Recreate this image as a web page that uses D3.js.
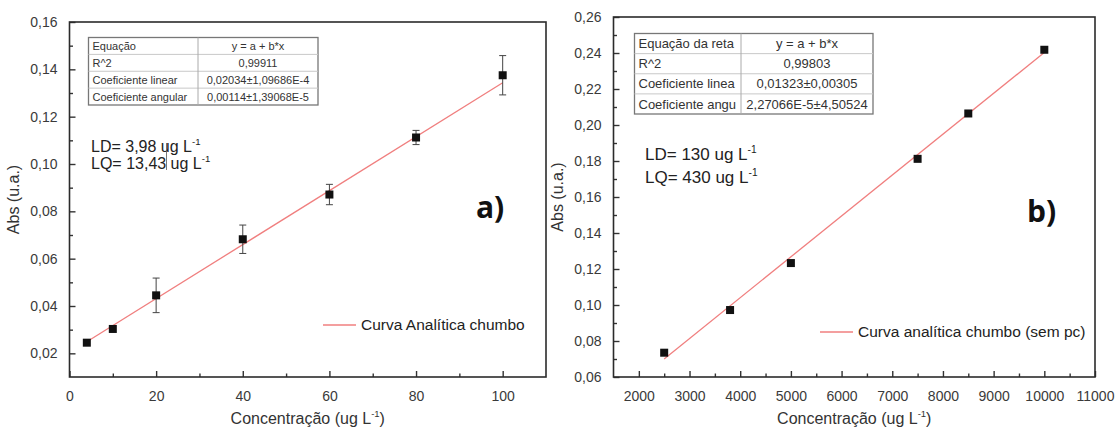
<!DOCTYPE html>
<html><head><meta charset="utf-8">
<script src="https://cdn.jsdelivr.net/npm/d3@7"></script>
<style>
body{margin:0;background:#fff;}
svg{display:block;font-family:"Liberation Sans",Arial,sans-serif;}
</style></head>
<body>
<svg id="c" width="1116" height="430"></svg>
<script>
// ---- Panel a) data ----
const concA = [4, 10, 20, 40, 60, 80, 100];
const absA = [0.0245, 0.0303, 0.0445, 0.0682, 0.0871, 0.1112, 0.1375];
const errA = [0.0005, 0.0005, 0.0073, 0.0060, 0.0043, 0.0030, 0.0083];
const fitA = {a: 0.02034, b: 0.00114, from: 4, to: 100};
const xTicksA = [0, 20, 40, 60, 80, 100];
const yTicksA = [0.02, 0.04, 0.06, 0.08, 0.10, 0.12, 0.14, 0.16];
const tableA = [["Equação", "y = a + b*x"], ["R^2", "0,99911"], ["Coeficiente linear", "0,02034±1,09686E-4"], ["Coeficiente angular", "0,00114±1,39068E-5"]];
const limitsA = ["LD= 3,98 ug L", "LQ= 13,43 ug L"];
const legendA = "Curva Analítica chumbo";

// ---- Panel b) data ----
const concB = [2500, 3800, 5000, 7500, 8500, 10000];
const absB = [0.0735, 0.0972, 0.1233, 0.1812, 0.2064, 0.2418];
const fitB = {a: 0.01323, b: 2.27066e-5, from: 2500, to: 10000};
const xTicksB = [2000, 3000, 4000, 5000, 6000, 7000, 8000, 9000, 10000, 11000];
const yTicksB = [0.06, 0.08, 0.10, 0.12, 0.14, 0.16, 0.18, 0.20, 0.22, 0.24, 0.26];
const tableB = [["Equação da reta", "y = a + b*x"], ["R^2", "0,99803"], ["Coeficiente linea", "0,01323±0,00305"], ["Coeficiente angu", "2,27066E-5±4,50524"]];
const limitsB = ["LD= 130 ug L", "LQ= 430 ug L"];
const legendB = "Curva analítica chumbo (sem pc)";

const svg = d3.select("#c");
const fmt = v => d3.format(".2f")(v).replace(".", ",");

function panel(cfg) {
  const g = svg.append("g");
  const x = d3.scaleLinear().domain(cfg.xDomain).range([cfg.x0, cfg.x1]);
  const y = d3.scaleLinear().domain(cfg.yDomain).range([cfg.y1, cfg.y0]);

  // x axis (ticks inward)
  const xa = g.append("g").attr("transform", `translate(0,${cfg.y1})`)
    .call(d3.axisBottom(x).tickValues(cfg.xTicks).tickSize(-6).tickPadding(14).tickFormat(d3.format("d")));
  xa.select(".domain").remove();
  xa.selectAll("line").attr("stroke", "#333").attr("stroke-width", 1.4);
  xa.selectAll("text").attr("fill", "#3a3a3a").attr("font-size", cfg.tickFont);
  const xm = g.append("g").attr("transform", `translate(0,${cfg.y1})`)
    .call(d3.axisBottom(x).tickValues(cfg.xMinor).tickSize(-3.5).tickFormat(""));
  xm.select(".domain").remove();
  xm.selectAll("line").attr("stroke", "#333").attr("stroke-width", 1.4);

  // y axis (ticks inward)
  const ya = g.append("g").attr("transform", `translate(${cfg.x0},0)`)
    .call(d3.axisLeft(y).tickValues(cfg.yTicks).tickSize(-6).tickPadding(12).tickFormat(fmt));
  ya.select(".domain").remove();
  ya.selectAll("line").attr("stroke", "#333").attr("stroke-width", 1.4);
  ya.selectAll("text").attr("fill", "#3a3a3a").attr("font-size", cfg.tickFont);
  const ym = g.append("g").attr("transform", `translate(${cfg.x0},0)`)
    .call(d3.axisLeft(y).tickValues(cfg.yMinor).tickSize(-3.5).tickFormat(""));
  ym.select(".domain").remove();
  ym.selectAll("line").attr("stroke", "#333").attr("stroke-width", 1.4);

  // frame
  g.append("rect").attr("x", cfg.x0).attr("y", cfg.y0)
    .attr("width", cfg.x1 - cfg.x0).attr("height", cfg.y1 - cfg.y0)
    .attr("fill", "none").attr("stroke", "#2b2b2b").attr("stroke-width", 1.6);

  // fit line
  const f = cfg.fit;
  g.append("line")
    .attr("x1", x(f.from)).attr("y1", y(f.a + f.b * f.from))
    .attr("x2", x(f.to)).attr("y2", y(f.a + f.b * f.to))
    .attr("stroke", "#f07f7f").attr("stroke-width", 1.3);

  // error bars
  if (cfg.err) {
    cfg.conc.forEach((c, i) => {
      const e = cfg.err[i];
      if (y(cfg.abs[i] - e) - y(cfg.abs[i] + e) < 4) return;
      const eg = g.append("g").attr("stroke", "#444").attr("stroke-width", 1);
      eg.append("line").attr("x1", x(c)).attr("x2", x(c)).attr("y1", y(cfg.abs[i] - e)).attr("y2", y(cfg.abs[i] + e));
      [cfg.abs[i] - e, cfg.abs[i] + e].forEach(v => {
        eg.append("line").attr("x1", x(c) - 3.5).attr("x2", x(c) + 3.5).attr("y1", y(v)).attr("y2", y(v));
      });
    });
  }
  // points
  g.selectAll("rect.pt").data(cfg.conc).enter().append("rect").attr("class", "pt")
    .attr("x", d => x(d) - 4).attr("y", (d, i) => y(cfg.abs[i]) - 4)
    .attr("width", 8).attr("height", 8).attr("fill", "#111");

  // axis titles
  const xt = g.append("text").attr("x", (cfg.x0 + cfg.x1) / 2).attr("y", 424)
    .attr("text-anchor", "middle").attr("font-size", 16).attr("fill", "#333");
  xt.append("tspan").text("Concentração (ug L");
  xt.append("tspan").text("-1").attr("font-size", 9.5).attr("dy", -7);
  xt.append("tspan").text(")").attr("dy", 7);
  g.append("text").attr("transform", `translate(${cfg.yTitleX},${(cfg.y0 + cfg.y1) / 2}) rotate(-90)`)
    .attr("text-anchor", "middle").attr("font-size", 16).attr("fill", "#333").text("Abs (u.a.)");

  // table
  const t = cfg.table;
  const rows = cfg.tableRows;
  const tg = g.append("g");
  const rh = (t.y1 - t.y0) / rows.length;
  tg.append("rect").attr("x", t.x0).attr("y", t.y0).attr("width", t.x1 - t.x0).attr("height", t.y1 - t.y0)
    .attr("fill", "#fff").attr("stroke", "#777").attr("stroke-width", 1.3);
  for (let i = 1; i < rows.length; i++) {
    tg.append("line").attr("x1", t.x0).attr("x2", t.x1).attr("y1", t.y0 + i * rh).attr("y2", t.y0 + i * rh)
      .attr("stroke", "#c8c8c8").attr("stroke-width", 1);
  }
  tg.append("line").attr("x1", t.xm).attr("x2", t.xm).attr("y1", t.y0).attr("y2", t.y1)
    .attr("stroke", "#aaa").attr("stroke-width", 1);
  rows.forEach((r, i) => {
    tg.append("text").attr("x", t.x0 + 4).attr("y", t.y0 + i * rh + rh / 2).attr("dy", "0.36em")
      .attr("font-size", t.font).attr("fill", "#333").text(r[0]);
    tg.append("text").attr("x", (t.xm + t.x1) / 2).attr("y", t.y0 + i * rh + rh / 2).attr("dy", "0.36em")
      .attr("text-anchor", "middle").attr("font-size", t.font).attr("fill", "#333").text(r[1]);
  });

  // LD / LQ
  cfg.limits.forEach((s, i) => {
    const tx = g.append("text").attr("x", cfg.limX).attr("y", cfg.limY + i * cfg.limGap)
      .attr("font-size", cfg.limFont).attr("fill", "#222");
    tx.append("tspan").text(s);
    tx.append("tspan").text("-1").attr("font-size", cfg.limFont * 0.6).attr("dy", -7);
  });

  // panel label
  g.append("text").attr("x", cfg.labX).attr("y", cfg.labY).attr("font-size", 30)
    .attr("font-weight", "bold").attr("fill", "#111").attr("font-family", "'Open Sans',sans-serif").text(cfg.label);

  // legend
  g.append("line").attr("x1", cfg.legX).attr("x2", cfg.legX + 33).attr("y1", cfg.legY).attr("y2", cfg.legY)
    .attr("stroke", "#f07f7f").attr("stroke-width", 1.3);
  g.append("text").attr("x", cfg.legX + 38).attr("y", cfg.legY).attr("dy", "0.35em")
    .attr("font-size", 15.5).attr("fill", "#222").text(cfg.legend);
  return {g, x, y};
}

const pa = panel({
  x0: 69.5, x1: 546, y0: 22, y1: 377,
  xDomain: [0, 110], yDomain: [0.01, 0.16],
  xTicks: xTicksA, xMinor: [10, 30, 50, 70, 90],
  yTicks: yTicksA, yMinor: [0.03, 0.05, 0.07, 0.09, 0.11, 0.13, 0.15],
  tickFont: 14, yTitleX: 19,
  conc: concA, abs: absA, err: errA, fit: fitA,
  table: {x0: 88.5, x1: 318, xm: 198, y0: 37.5, y1: 105, font: 11},
  tableRows: tableA,
  limits: limitsA, limX: 91, limY: 152, limGap: 17, limFont: 16,
  label: "a)", labX: 476, labY: 218,
  legX: 323, legY: 325, legend: legendA
});
// small cursor artifact in LQ text
pa.g.append("line").attr("x1", 166.5).attr("x2", 166.5).attr("y1", 143).attr("y2", 170)
  .attr("stroke", "#555").attr("stroke-width", 0.8);

panel({
  x0: 613.5, x1: 1095, y0: 17, y1: 377,
  xDomain: [1500, 11000], yDomain: [0.06, 0.26],
  xTicks: xTicksB, xMinor: [2500, 3500, 4500, 5500, 6500, 7500, 8500, 9500, 10500],
  yTicks: yTicksB, yMinor: [0.07, 0.09, 0.11, 0.13, 0.15, 0.17, 0.19, 0.21, 0.23, 0.25],
  tickFont: 14, yTitleX: 563,
  conc: concB, abs: absB, err: null, fit: fitB,
  table: {x0: 634.5, x1: 873, xm: 741, y0: 33.5, y1: 114, font: 13},
  tableRows: tableB,
  limits: limitsB, limX: 645, limY: 160, limGap: 23, limFont: 17,
  label: "b)", labX: 1027, labY: 222,
  legX: 820, legY: 332, legend: legendB
});
</script>
</body></html>
